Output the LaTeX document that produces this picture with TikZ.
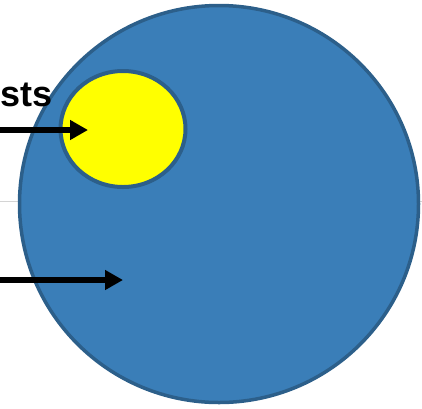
\documentclass[tikz,border=0pt]{standalone}
\usepackage{fontspec}
\setmainfont{Liberation Sans}
\usepackage{tikz}
\usetikzlibrary{shapes.geometric,arrows.meta}
\definecolor{cell-blue}{HTML}{3A7EB8}
\definecolor{cell-edge}{HTML}{2C5F8A}
\definecolor{core-yellow}{HTML}{FFFF00}
\definecolor{rule-gray}{HTML}{D4D4D4}

\begin{document}
\begin{tikzpicture}[
    x=1pt, y=-1pt,
    outer/.style={ellipse, draw=cell-edge, fill=cell-blue, line width=3.5pt, minimum width=399pt, minimum height=397pt, inner sep=0pt},
    inner/.style={ellipse, draw=cell-edge, fill=core-yellow, line width=4pt, minimum width=125pt, minimum height=116pt, inner sep=0pt},
    pointer/.style={-{Triangle[length=18pt,width=19pt]}, line width=6pt, draw=black},
    lbl/.style={font=\fontsize{36}{40}\selectfont\bfseries, inner sep=0pt}
]
    \useasboundingbox (0,0) rectangle (422,408);
    \draw[rule-gray, line width=1pt] (0,201) -- (422,201);

    \node[outer] (cell) at (219,204) {};
    \node[inner] (core) at (123,129) {};

    \node[lbl, anchor=base west] (name) at (0.5,106) {sts};

    \coordinate (src1) at (0,130);
    \coordinate (dst1) at (88,130);
    \coordinate (src2) at (0,280);
    \coordinate (dst2) at (123,280);

    \draw[pointer] (src1) -- (dst1);
    \draw[pointer] (src2) -- (dst2);
\end{tikzpicture}
\end{document}
